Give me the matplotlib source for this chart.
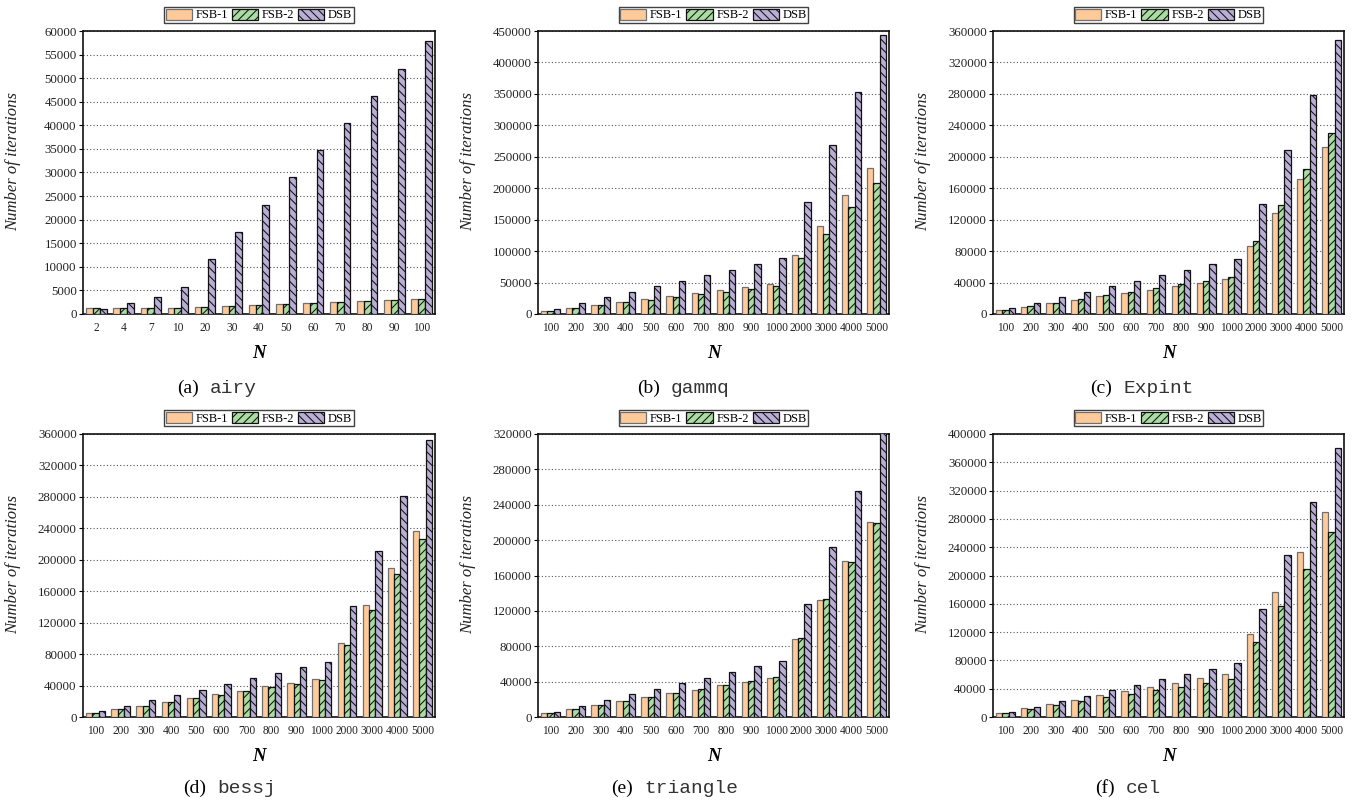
import matplotlib
matplotlib.use("Agg")
import matplotlib.pyplot as plt
import numpy as np
from matplotlib.patches import Patch
from matplotlib.offsetbox import TextArea, HPacker, AnnotationBbox

plt.rcParams["font.family"] = ["Liberation Serif", "DejaVu Serif"]
plt.rcParams["hatch.linewidth"] = 0.75

# ---------------- data ----------------
series_names = ["FSB-1", "FSB-2", "DSB"]

n_airy = ["2", "4", "7", "10", "20", "30", "40", "50", "60", "70", "80", "90", "100"]
n_big = ["100", "200", "300", "400", "500", "600", "700", "800", "900",
         "1000", "2000", "3000", "4000", "5000"]

airy_fsb1 = [1200, 1200, 1250, 1350, 1550, 1750, 1950, 2180, 2400, 2540, 2750, 2950, 3100]
airy_fsb2 = [1200, 1200, 1250, 1350, 1550, 1750, 1950, 2180, 2400, 2540, 2750, 2950, 3100]
airy_dsb = [1150, 2330, 3600, 5800, 11660, 17380, 23180, 28980, 34700, 40560, 46220, 52010, 57800]

gammq_fsb1 = [4800, 9500, 14800, 19000, 23800, 28600, 33000, 37600, 43000, 48000,
              93300, 139400, 188700, 232700]
gammq_fsb2 = [4200, 9000, 14300, 18500, 22800, 26500, 31300, 35000, 40300, 44500,
              88500, 126700, 170100, 208800]
gammq_dsb = [8500, 17500, 26500, 35500, 45000, 53000, 61500, 69400, 79000, 89600,
             178000, 268700, 352500, 444100]

expint_fsb1 = [4700, 9300, 13600, 18200, 22500, 26700, 31000, 35200, 39400, 44100,
               86900, 128900, 171300, 212400]
expint_fsb2 = [4700, 9800, 14400, 19100, 23700, 28400, 33100, 37700, 42400, 47500,
               92900, 138200, 184000, 230700]
expint_dsb = [7200, 13600, 21200, 27600, 35200, 41600, 49200, 55500, 63200, 69500,
              139500, 209000, 279000, 348100]

bessj_fsb1 = [4700, 9800, 14400, 19100, 24200, 28800, 33500, 39000, 42800, 47900,
              94600, 142500, 189500, 236600]
bessj_fsb2 = [4700, 9800, 14400, 19100, 23700, 28400, 32600, 37700, 42400, 47100,
              91600, 136500, 181900, 226400]
bessj_dsb = [7200, 14000, 21200, 28000, 34800, 42000, 49200, 56000, 63200, 70000,
             140800, 211100, 281500, 351900]

triangle_fsb1 = [4500, 8700, 13200, 17700, 22200, 26800, 30900, 35800, 40000, 44500,
                 88200, 132300, 176400, 220500]
triangle_fsb2 = [4500, 9000, 13600, 18100, 22600, 27100, 31700, 36200, 40700, 45200,
                 89300, 133500, 175300, 219400]
triangle_dsb = [6000, 12400, 18800, 25600, 31700, 38500, 44500, 50900, 57700, 63700,
                127800, 192300, 255900, 322000]

cel_fsb1 = [6100, 12200, 18400, 24500, 30600, 36700, 42900, 48500, 54600, 60800,
            117300, 176200, 233600, 289700]
cel_fsb2 = [5700, 10800, 16500, 22100, 27800, 33000, 38200, 42900, 48000, 53200,
            106000, 156800, 208700, 261900]
cel_dsb = [7100, 14600, 22100, 30100, 37700, 44700, 53200, 60300, 67800, 75800,
           152100, 228400, 304300, 380100]

panels = [
    ("(a)", "airy", n_airy, [airy_fsb1, airy_fsb2, airy_dsb], 60000, 5000),
    ("(b)", "gammq", n_big, [gammq_fsb1, gammq_fsb2, gammq_dsb], 450000, 50000),
    ("(c)", "Expint", n_big, [expint_fsb1, expint_fsb2, expint_dsb], 360000, 40000),
    ("(d)", "bessj", n_big, [bessj_fsb1, bessj_fsb2, bessj_dsb], 360000, 40000),
    ("(e)", "triangle", n_big, [triangle_fsb1, triangle_fsb2, triangle_dsb], 320000, 40000),
    ("(f)", "cel", n_big, [cel_fsb1, cel_fsb2, cel_dsb], 400000, 40000),
]

# ---------------- styling ----------------
face_colors = ["#FFCA99", "#A8DCA0", "#B8AED6"]
edge_colors = ["#707070", "#111111", "#111111"]
hatches = ["", "////", "\\\\\\\\"]

W, H = 1353, 801
fig = plt.figure(figsize=(W / 100, H / 100), dpi=100)

# axes boxes in pixels: left, top, right, bottom
boxes = [
    (83, 31, 435, 314), (538, 31, 889, 314), (993, 31, 1344, 314),
    (83, 434, 435, 717), (538, 434, 889, 717), (993, 434, 1344, 717),
]
ylabel_right = [21, 476, 931, 21, 476, 931]
caption_pos = [(217, 388), (683, 388), (1142, 388), (230, 788), (675, 788), (1128, 788)]

bar_w = 0.25
for (tag, name, cats, vals, ymax, ystep), (l, t, r, b), yl, (cx, cy) in zip(
        panels, boxes, ylabel_right, caption_pos):
    ax = fig.add_axes([l / W, (H - b) / H, (r - l) / W, (b - t) / H])
    x = np.arange(len(cats))
    for i, v in enumerate(vals):
        ax.bar(x + (i - 1) * bar_w, v, width=bar_w, color=face_colors[i],
               edgecolor=edge_colors[i], linewidth=0.9, hatch=hatches[i],
               zorder=3, label=series_names[i])
    ax.set_xlim(-0.5, len(cats) - 0.5)
    ax.set_ylim(0, ymax)
    ax.set_yticks(np.arange(0, ymax + 1, ystep))
    ax.set_xticks(x)
    ax.set_xticklabels(cats, fontsize=8.3)
    ax.tick_params(axis="y", labelsize=9.3, direction="out", length=3, width=0.8,
                   pad=1.5, labelcolor="#222222")
    ax.tick_params(axis="x", length=0, pad=6, labelcolor="#222222")
    ax.yaxis.grid(True, linestyle=(0, (1, 2)), color="#555555", linewidth=0.8, zorder=0)
    ax.set_axisbelow(True)
    for sp in ax.spines.values():
        sp.set_linewidth(1.2)
        sp.set_color("#111111")
    ax.set_ylabel("Number of iterations", fontsize=12, style="italic", color="#222222")
    ax.yaxis.set_label_coords((yl - l) / (r - l), 0.54)
    ax.set_xlabel("N", fontsize=13.5, style="italic", fontweight="bold", labelpad=8)

    handles = [Patch(facecolor=face_colors[i], edgecolor=edge_colors[i], hatch=hatches[i],
                     linewidth=0.9) for i in range(3)]
    leg = ax.legend(handles, series_names, loc="lower center", ncol=3,
                    bbox_to_anchor=(0.5, 1.0 + 8 / (b - t)), fontsize=9,
                    frameon=True, fancybox=False, edgecolor="#111111",
                    handlelength=2.1, handleheight=1.0, handletextpad=0.3,
                    columnspacing=0.3, borderpad=0.12, borderaxespad=0)
    leg.get_frame().set_linewidth(1.0)

    cap = HPacker(children=[
        TextArea(tag, textprops=dict(fontsize=14, family="Liberation Serif")),
        TextArea(name, textprops=dict(fontsize=14, family="Liberation Mono", color="#333333")),
    ], sep=8, align="baseline")
    ab = AnnotationBbox(cap, (cx / W, (H - cy) / H), xycoords="figure fraction",
                        frameon=False, box_alignment=(0.5, 0.5))
    fig.add_artist(ab)

fig.savefig("out.png", dpi=100)
